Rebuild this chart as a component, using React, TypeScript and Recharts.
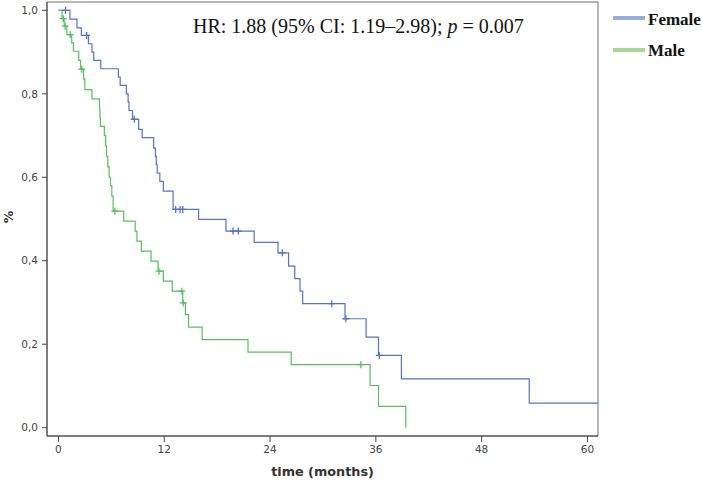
import { LineChart, Line, XAxis, YAxis, ReferenceArea } from "recharts"

// Kaplan-Meier curves: time (months), survival, censored flag (1 = "+")
const femaleTimes = [0, 0.8, 1.3, 2.1, 2.6, 3.2, 3.4, 3.8, 4.0, 4.8, 6.8, 7.0, 7.7, 7.9, 8.0, 8.4, 8.6, 9.1, 9.5, 10.8, 11.0, 11.1, 11.2, 11.5, 11.9, 13.0, 13.3, 13.8, 14.1, 15.9, 19.0, 19.8, 20.4, 22.2, 24.9, 25.4, 26.1, 26.8, 27.4, 27.7, 31.0, 32.5, 32.6, 34.9, 36.3, 36.4, 38.9, 53.4, 61.2]
const femaleSurvival = [1.0, 1.0, 0.979, 0.958, 0.94, 0.94, 0.92, 0.9, 0.88, 0.86, 0.84, 0.82, 0.8, 0.78, 0.76, 0.739, 0.739, 0.715, 0.695, 0.67, 0.65, 0.63, 0.61, 0.59, 0.567, 0.523, 0.523, 0.523, 0.523, 0.499, 0.471, 0.471, 0.471, 0.444, 0.419, 0.419, 0.387, 0.357, 0.327, 0.297, 0.297, 0.261, 0.261, 0.217, 0.173, 0.173, 0.117, 0.059, 0.059]
const femaleCensored = [0, 1, 0, 0, 0, 1, 0, 0, 0, 0, 0, 0, 0, 0, 0, 0, 1, 0, 0, 0, 0, 0, 0, 0, 0, 0, 1, 1, 1, 0, 0, 1, 1, 0, 0, 1, 0, 0, 0, 0, 1, 0, 1, 0, 0, 1, 0, 0, 0]

const maleTimes = [0, 0.4, 0.55, 0.65, 0.76, 0.95, 1.33, 1.5, 1.7, 2.3, 2.5, 2.65, 2.85, 3.0, 3.8, 4.65, 4.7, 4.75, 5.2, 5.35, 5.45, 5.6, 5.75, 5.9, 6.05, 6.2, 6.4, 7.4, 8.7, 8.9, 9.4, 10.5, 11.3, 11.4, 11.9, 12.9, 14.0, 14.1, 14.15, 14.4, 14.75, 16.3, 21.5, 26.4, 34.3, 35.35, 36.3, 39.4]
const maleSurvival = [1.0, 0.98, 0.98, 0.962, 0.962, 0.942, 0.942, 0.922, 0.902, 0.88, 0.859, 0.859, 0.835, 0.81, 0.788, 0.766, 0.744, 0.722, 0.7, 0.675, 0.65, 0.625, 0.6, 0.58, 0.555, 0.519, 0.519, 0.495, 0.471, 0.447, 0.423, 0.399, 0.375, 0.375, 0.351, 0.327, 0.327, 0.299, 0.299, 0.271, 0.241, 0.211, 0.181, 0.151, 0.151, 0.101, 0.051, 0.0]
const maleCensored = [0, 0, 1, 0, 1, 0, 1, 0, 0, 0, 0, 1, 0, 0, 0, 0, 0, 0, 0, 0, 0, 0, 0, 0, 0, 0, 1, 0, 0, 0, 0, 0, 0, 1, 0, 0, 1, 0, 1, 0, 0, 0, 0, 0, 1, 0, 0, 0]

const xTicks = [0, 12, 24, 36, 48, 60]
const yTicks = [0, 0.2, 0.4, 0.6, 0.8, 1.0]

const X_MIN = -1.3
const X_MAX = 61.2
const Y_MIN = -0.02
const Y_MAX = 1.02

const BLUE = "#5673c8"
const GREEN = "#58bf5c"

const build = (t: number[], s: number[], c: number[]) =>
  t.map((v, i) => ({ t: v, s: s[i], c: c[i] }))

const femaleData = build(femaleTimes, femaleSurvival, femaleCensored)
const maleData = build(maleTimes, maleSurvival, maleCensored)

const censorDot = (color: string) => (props: any) => {
  const { cx, cy, payload, index } = props
  if (!payload || !payload.c) return <g key={index} />
  return (
    <path
      key={index}
      d={`M${cx - 3.5},${cy}H${cx + 3.5}M${cx},${cy - 3.5}V${cy + 3.5}`}
      stroke={color}
      strokeWidth={1.3}
      fill="none"
    />
  )
}

const tickStyle = { fontSize: 10.5, fill: "#444", fontFamily: "DejaVu Sans" }

export default function App() {
  return (
    <div style={{ position: "absolute", left: 0, top: 0, width: 702, height: 481, background: "#fff" }}>
      <LineChart
        width={702}
        height={481}
        margin={{ top: 2, right: 104, bottom: 0, left: 7 }}
      >
        <XAxis
          type="number"
          dataKey="t"
          domain={[X_MIN, X_MAX]}
          ticks={xTicks}
          allowDataOverflow
          height={45}
          tickSize={6}
          tickMargin={4}
          tick={tickStyle}
          stroke="#444"
        />
        <YAxis
          type="number"
          dataKey="s"
          domain={[Y_MIN, Y_MAX]}
          ticks={yTicks}
          allowDataOverflow
          width={40}
          tickSize={5}
          tickMargin={4}
          tick={tickStyle}
          stroke="#444"
          tickFormatter={(v: number) => v.toFixed(1).replace(".", ",")}
        />
        <ReferenceArea
          x1={X_MIN}
          x2={X_MAX}
          y1={Y_MIN}
          y2={Y_MAX}
          fill="none"
          stroke="#707070"
          strokeWidth={1}
          ifOverflow="visible"
        />
        <Line
          data={femaleData}
          dataKey="s"
          type="stepAfter"
          stroke={BLUE}
          strokeWidth={1.2}
          dot={censorDot(BLUE)}
          activeDot={false}
          isAnimationActive={false}
        />
        <Line
          data={maleData}
          dataKey="s"
          type="stepAfter"
          stroke={GREEN}
          strokeWidth={1.2}
          dot={censorDot(GREEN)}
          activeDot={false}
          isAnimationActive={false}
        />
      </LineChart>

      <svg
        width={702}
        height={481}
        style={{ position: "absolute", left: 0, top: 0, pointerEvents: "none" }}
      >
        <text x={193} y={33} fontFamily="Liberation Serif" fontSize={20} fill="#111">
          HR: 1.88 (95% CI: 1.19–2.98); <tspan fontStyle="italic">p</tspan> = 0.007
        </text>

        <line x1={613} x2={645} y1={18} y2={18} stroke="#94afe2" strokeWidth={4} />
        <text x={648} y={25} fontFamily="Liberation Serif" fontWeight="bold" fontSize={17} fill="#111">
          Female
        </text>
        <line x1={613} x2={645} y1={50} y2={50} stroke="#a6d896" strokeWidth={4} />
        <text x={648} y={56} fontFamily="Liberation Serif" fontWeight="bold" fontSize={17} fill="#111">
          Male
        </text>

        <text x={322.5} y={476} textAnchor="middle" fontFamily="DejaVu Sans" fontWeight="bold" fontSize={12.8} fill="#333">
          time (months)
        </text>
        <text
          transform="translate(13,217) rotate(-90)"
          textAnchor="middle"
          fontFamily="DejaVu Sans"
          fontWeight="bold"
          fontSize={12.5}
          fill="#333"
        >
          %
        </text>
      </svg>
    </div>
  )
}
